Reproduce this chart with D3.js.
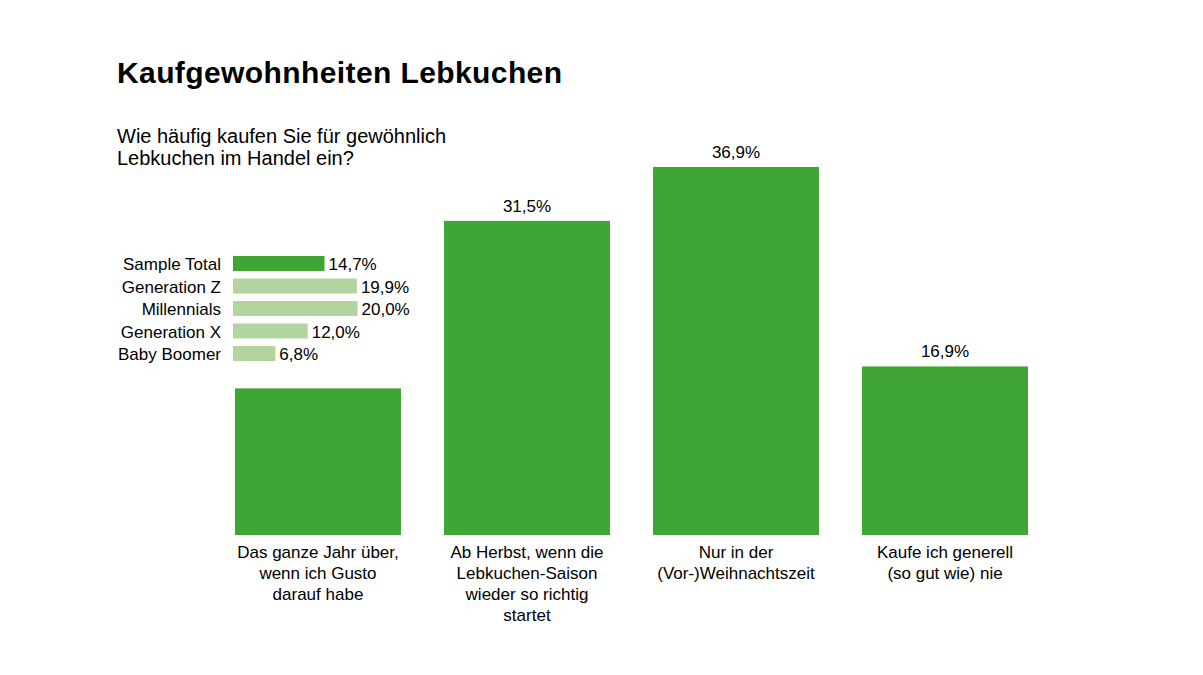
<!DOCTYPE html>
<html><head><meta charset="utf-8">
<script src="https://cdn.jsdelivr.net/npm/d3@7"></script>
<style>body{margin:0;background:#fff}svg{display:block;font-family:"Liberation Sans",Arial,sans-serif}</style>
</head><body><svg id="c" width="1203" height="675"></svg>
<script>
const title = "Kaufgewohnheiten Lebkuchen";
const subtitle = ["Wie häufig kaufen Sie für gewöhnlich", "Lebkuchen im Handel ein?"];
const categories = [
  ["Das ganze Jahr über,", "wenn ich Gusto", "darauf habe"],
  ["Ab Herbst, wenn die", "Lebkuchen-Saison", "wieder so richtig", "startet"],
  ["Nur in der", "(Vor-)Weihnachtszeit"],
  ["Kaufe ich generell", "(so gut wie) nie"]
];
const values = [14.7, 31.5, 36.9, 16.9];
const showValueLabel = [false, true, true, true];
const groups = ["Sample Total", "Generation Z", "Millennials", "Generation X", "Baby Boomer"];
const groupValues = [14.7, 19.9, 20.0, 12.0, 6.8];

const dark = "#3fa535", light = "#b2d59f";
const fmt = v => d3.format(".1f")(v).replace(".", ",") + "%";
const svg = d3.select("#c");

svg.append("text").attr("x", 117).attr("y", 83).attr("font-size", 30).attr("font-weight", "bold")
  .attr("letter-spacing", 0.4).attr("fill", "#000").text(title);
svg.append("text").attr("font-size", 20).attr("fill", "#000").selectAll("tspan").data(subtitle).join("tspan")
  .attr("x", 117).attr("y", (d, i) => 143 + i * 22).text(d => d);

const x = d3.scaleBand().domain(d3.range(values.length)).range([235, 1028]).paddingInner(0.206).paddingOuter(0);
const y = d3.scaleLinear().domain([0, 36.9]).range([535, 167]);

svg.append("g").selectAll("rect").data(values).join("rect")
  .attr("x", (d, i) => x(i)).attr("width", x.bandwidth())
  .attr("y", d => y(d)).attr("height", d => y(0) - y(d)).attr("fill", dark);

svg.append("g").selectAll("text").data(values.map((v, i) => ({v, i})).filter(d => showValueLabel[d.i])).join("text")
  .attr("x", d => x(d.i) + x.bandwidth() / 2).attr("y", d => y(d.v) - 9)
  .attr("text-anchor", "middle").attr("font-size", 17).attr("fill", "#000").text(d => fmt(d.v));

const cl = svg.append("g").selectAll("text").data(categories).join("text")
  .attr("text-anchor", "middle").attr("font-size", 17).attr("fill", "#000");
cl.selectAll("tspan").data((d, i) => d.map(t => ({t, i}))).join("tspan")
  .attr("x", d => x(d.i) + x.bandwidth() / 2).attr("y", (d, j) => 558 + j * 21).text(d => d.t);

// mini chart
const gy = d3.scaleBand().domain(groups).range([256, 361]).paddingInner(0.333).paddingOuter(0);
const gx = d3.scaleLinear().domain([0, 20]).range([233, 357.5]);
const mg = svg.append("g");
mg.selectAll("rect").data(groupValues).join("rect")
  .attr("x", gx(0)).attr("y", (d, i) => gy(groups[i])).attr("height", gy.bandwidth())
  .attr("width", d => gx(d) - gx(0)).attr("fill", (d, i) => i === 0 ? dark : light);
mg.selectAll("text.v").data(groupValues).join("text").attr("class", "v")
  .attr("x", d => gx(d) + 4).attr("y", (d, i) => gy(groups[i]) + gy.bandwidth() - 1)
  .attr("font-size", 17).attr("fill", "#000").text(d => fmt(d));
mg.selectAll("text.l").data(groups).join("text").attr("class", "l")
  .attr("x", 221).attr("y", d => gy(d) + gy.bandwidth() - 1).attr("text-anchor", "end")
  .attr("font-size", 17).attr("fill", "#000").text(d => d);
</script></body></html>
